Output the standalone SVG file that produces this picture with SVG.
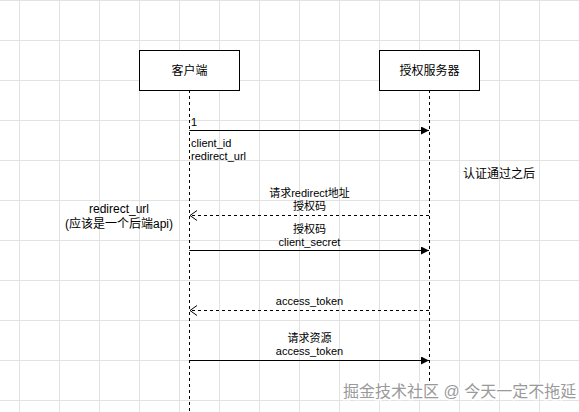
<svg xmlns="http://www.w3.org/2000/svg" width="579" height="412" viewBox="0 0 579 412">
<defs>
<pattern id="grid" x="19" y="0" width="40" height="40" patternUnits="userSpaceOnUse">
<path d="M0.5 0 V40 M0 0.5 H40" fill="none" stroke="#e2e2e2" stroke-width="1"/>
</pattern>
<marker id="solid" markerWidth="10" markerHeight="10" refX="8" refY="4" orient="auto" markerUnits="userSpaceOnUse">
<path d="M0 0 L8 4 L0 8 Z" fill="#000"/>
</marker>
<marker id="open" markerWidth="12" markerHeight="12" refX="8" refY="5" orient="auto" markerUnits="userSpaceOnUse">
<path d="M1 0 L8 5 L1 10" fill="none" stroke="#000" stroke-width="1"/>
</marker>
</defs>
<style>
text{font-family:"Liberation Sans","Noto Sans CJK SC",sans-serif;fill:#000}
.lbl{font-size:11px}
.c{text-anchor:middle}
.box{fill:#fff;stroke:#000;stroke-width:1}
.life{stroke:#000;stroke-width:1;stroke-dasharray:3 3;fill:none}
.msg{stroke:#000;stroke-width:1;fill:none}
.ret{stroke:#000;stroke-width:1;fill:none;stroke-dasharray:3 3}
.wm{font-size:16px;fill:#9a9a9a;stroke:#fff;stroke-width:3;paint-order:stroke}
</style>
<rect x="0" y="0" width="579" height="412" fill="#fff"/>
<rect x="0" y="0" width="579" height="412" fill="url(#grid)"/>

<g id="connectors">
<line class="life" x1="189.5" y1="90" x2="189.5" y2="412"/>
<line class="life" x1="429.5" y1="90" x2="429.5" y2="381"/>
<line class="msg" x1="189.5" y1="130.5" x2="429" y2="130.5" marker-end="url(#solid)"/>
<line class="ret" x1="429" y1="215.5" x2="190" y2="215.5" marker-end="url(#open)"/>
<line class="msg" x1="189.5" y1="250.5" x2="429" y2="250.5" marker-end="url(#solid)"/>
<line class="ret" x1="429" y1="310.5" x2="190" y2="310.5" marker-end="url(#open)"/>
<line class="msg" x1="189.5" y1="360.5" x2="429" y2="360.5" marker-end="url(#solid)"/>
</g>

<g id="client">
<rect class="box" x="139.5" y="50.5" width="100" height="40"/>
<text x="189.5" y="75" class="c" font-size="12">客户端</text>
</g>
<g id="server">
<rect class="box" x="379.5" y="50.5" width="100" height="40"/>
<text x="429.5" y="75" class="c" font-size="12">授权服务器</text>
</g>

<g id="labels">
<text class="lbl" x="191" y="126">1</text>
<text class="lbl" x="191" y="147">client_id</text>
<text class="lbl" x="191" y="160">redirect_url</text>
<text class="lbl c" x="309.5" y="197">请求redirect地址</text>
<text class="lbl c" x="309.5" y="210">授权码</text>
<text class="lbl c" x="309.5" y="233">授权码</text>
<text class="lbl c" x="309.5" y="246">client_secret</text>
<text class="lbl c" x="309.5" y="305">access_token</text>
<text class="lbl c" x="309.5" y="342">请求资源</text>
<text class="lbl c" x="309.5" y="355">access_token</text>
</g>

<g id="note-redirect">
<text class="c" font-size="12" x="119" y="213">redirect_url</text>
<text class="c" font-size="12" x="119" y="228">(应该是一个后端api)</text>
</g>
<g id="note-auth">
<text x="463" y="178" font-size="12">认证通过之后</text>
</g>
<g id="watermark">
<text class="wm" x="343" y="397">掘金技术社区 @ 今天一定不拖延</text>
</g>
</svg>
